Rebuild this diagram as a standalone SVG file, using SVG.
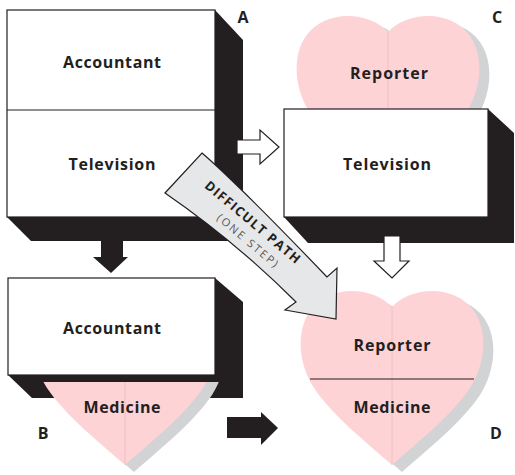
<svg xmlns="http://www.w3.org/2000/svg" width="515" height="475" viewBox="0 0 515 475">
<style>
.blk{fill:#231f20}
.front{fill:#fff;stroke:#231f20;stroke-width:1.2}
.pink{fill:#fdd3d6}
.shadow{fill:#d1d3d4}
.seam{stroke:#efbcc0;stroke-width:0.8}
.lbl{font-family:"Open Sans","Liberation Sans",sans-serif;font-weight:700;font-size:16px;fill:#231f20;text-anchor:middle}
.corner{font-family:"Open Sans","Liberation Sans",sans-serif;font-weight:700;font-size:16px;fill:#231f20;text-anchor:middle}
.warr{fill:#fff;stroke:#231f20;stroke-width:1.2;stroke-linejoin:miter}
.line{stroke:#231f20;stroke-width:1.2}
</style>
<defs>
<path id="heart" d="M0,14 C18,-6 62,-10 82,18 C96,38 94,70 78,95 C60,122 25,150 0,172 C-25,150 -60,122 -78,95 C-94,70 -96,38 -82,18 C-62,-10 -18,-6 0,14 Z"/>
<clipPath id="clipB"><rect x="0" y="382" width="260" height="100"/></clipPath>
</defs>

<g id="nodeA">
<polygon class="blk" points="7,10 215,10 243,40 243,241 31,241 7,217"/>
<rect class="front" x="7" y="10" width="208" height="207"/>
<line class="line" x1="7" y1="110" x2="215" y2="110"/>
<text class="lbl" x="112" y="68" textLength="98" lengthAdjust="spacing">Accountant</text>
<text class="lbl" x="112" y="170" textLength="87" lengthAdjust="spacing">Television</text>
<text class="corner" x="243" y="23">A</text>
</g>

<g id="nodeC">
<use href="#heart" class="shadow" transform="translate(398,24)"/>
<use href="#heart" class="pink" transform="translate(388,18)"/>
<line class="seam" x1="388" y1="32" x2="388" y2="109"/>
<text class="lbl" x="389" y="79" textLength="78" lengthAdjust="spacing">Reporter</text>
<polygon class="blk" points="284,109 488,109 514,133 514,243 308,243 284,217"/>
<rect class="front" x="284" y="109" width="204" height="108"/>
<text class="lbl" x="387" y="170" textLength="88" lengthAdjust="spacing">Television</text>
<text class="corner" x="497" y="23">C</text>
</g>

<g id="nodeB">
<polygon class="blk" points="8,278 215,278 243,302 243,398 32,398 8,375"/>
<g clip-path="url(#clipB)">
<use href="#heart" class="shadow" transform="translate(134,300)"/>
<use href="#heart" class="pink" transform="translate(125,293)"/>
<line class="seam" x1="125" y1="382" x2="125" y2="465"/>
</g>
<rect class="front" x="8" y="278" width="207" height="97"/>
<text class="lbl" x="112" y="334" textLength="98" lengthAdjust="spacing">Accountant</text>
<text class="lbl" x="122" y="413" textLength="77" lengthAdjust="spacing">Medicine</text>
<text class="corner" x="43" y="439">B</text>
</g>

<g id="nodeD">
<use href="#heart" class="shadow" transform="translate(402,300)"/>
<use href="#heart" class="pink" transform="translate(392,293)"/>
<line class="seam" x1="392" y1="307" x2="392" y2="465"/>
<line class="line" x1="310" y1="379" x2="474" y2="379"/>
<text class="lbl" x="392" y="351" textLength="77" lengthAdjust="spacing">Reporter</text>
<text class="lbl" x="392" y="413" textLength="77" lengthAdjust="spacing">Medicine</text>
<text class="corner" x="496" y="439">D</text>
</g>

<g id="connectors">
<polygon class="warr" points="237,140 260,140 260,130 279,147 260,164 260,154 237,154"/>
<polygon class="warr" points="384,236 400,236 400,261 409,261 392,278 374,261 384,261"/>
<polygon class="blk" points="101,238 123,238 123,257 128,257 111,273 93,257 101,257"/>
<polygon class="blk" points="227,417 261,417 261,412 278,428 261,445 261,438 227,438"/>
<g id="difficult">
<path d="M202,153 Q238,184 327,277 L337,268 L336,319 L285,310 L296,302 Q236,242 165,193 Z" fill="#e6e7e8" stroke="#231f20" stroke-width="1.2" stroke-linejoin="miter"/>
<text transform="translate(249.6,225.5) rotate(40)" text-anchor="middle" font-family="'Open Sans','Liberation Sans',sans-serif" font-weight="700" font-size="13" fill="#231f20" textLength="120" lengthAdjust="spacing">DIFFICULT PATH</text>
<text transform="translate(245.2,243.5) rotate(40)" text-anchor="middle" font-family="'Open Sans','Liberation Sans',sans-serif" font-size="11" fill="#555" textLength="76" lengthAdjust="spacing">(ONE STEP)</text>
</g>
</g>
</svg>
